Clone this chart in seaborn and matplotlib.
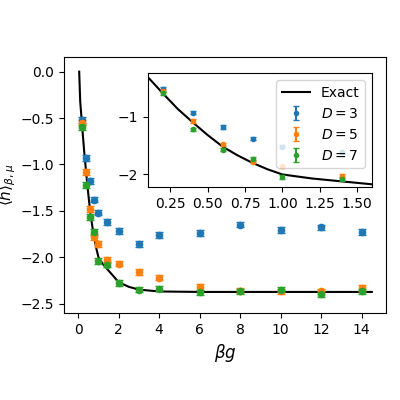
import numpy as np
import seaborn as sns
import matplotlib.pyplot as plt

plt.style.use("default")
plt.rcParams["font.family"] = ["DejaVu Sans"]

beta = [0.2, 0.4, 0.6, 0.8, 1.0, 1.4, 2, 3, 4, 6, 8, 10, 12, 14]
d3 = [-0.52, -0.93, -1.18, -1.38, -1.52, -1.62, -1.72, -1.86, -1.76, -1.74, -1.65, -1.71, -1.68, -1.73]
d5 = [-0.55, -1.08, -1.48, -1.78, -1.86, -2.03, -2.07, -2.16, -2.22, -2.32, -2.36, -2.37, -2.37, -2.33]
d7 = [-0.60, -1.22, -1.57, -1.73, -2.04, -2.08, -2.28, -2.35, -2.34, -2.38, -2.37, -2.35, -2.40, -2.37]
err = 0.03

exact_x = [0.05, 0.1, 0.2, 0.3, 0.4, 0.5, 0.6, 0.7, 0.8, 0.9, 1.0, 1.2, 1.4, 1.6, 2.0, 2.5, 3.0, 4.0, 6.0, 14.5]
exact_y = [0.0, -0.32, -0.6, -0.87, -1.1, -1.32, -1.52, -1.67, -1.8, -1.91, -2.0, -2.07, -2.12, -2.17, -2.27, -2.32, -2.35, -2.37, -2.375, -2.375]

colors = sns.color_palette("tab10")[:3]
series = [(d3, "$D=3$"), (d5, "$D=5$"), (d7, "$D=7$")]

fig = plt.figure(figsize=(4, 4), dpi=100)
ax = fig.add_axes([0.16, 0.218, 0.805, 0.64])
sns.lineplot(x=exact_x, y=exact_y, color="black", ax=ax, label="Exact")
for (vals, lab), c in zip(series, colors):
    ax.errorbar(beta, vals, yerr=err, fmt="o", ms=4.5, capsize=3, color=c, label=lab)
ax.legend().remove()
ax.set_xlabel(r"$\beta g$", fontsize=12)
ax.set_ylabel(r"$\langle h\rangle_{\beta,\mu}$", fontsize=11, labelpad=2)
ax.set_xticks(range(0, 15, 2))
ax.set_xlim(-0.7, 15.2)
ax.set_ylim(-2.6, 0.16)

ins = fig.add_axes([0.37, 0.532, 0.56, 0.285])
sns.lineplot(x=exact_x, y=exact_y, color="black", ax=ins, label="Exact")
for (vals, lab), c in zip(series, colors):
    ins.errorbar(beta[:6], vals[:6], yerr=err, fmt="o", ms=3, capsize=2, color=c, label=lab)
ins.set_xlim(0.1, 1.6)
ins.set_ylim(-2.22, -0.25)
ins.set_xticks([0.25, 0.5, 0.75, 1.0, 1.25, 1.5])
ins.set_yticks([-1, -2])
ins.legend(loc="upper right", fontsize=10, framealpha=0.8)

fig.savefig("out.png", dpi=100)
